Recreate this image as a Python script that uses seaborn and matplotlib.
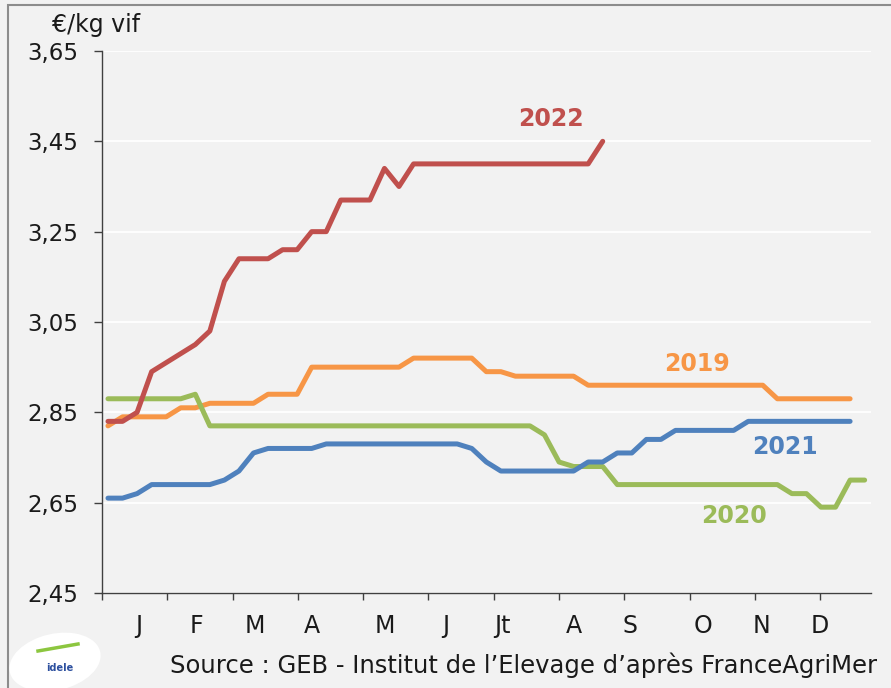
import numpy as np
import pandas as pd
import seaborn as sns
import matplotlib.pyplot as plt
from matplotlib.patches import Rectangle, Ellipse

# Prix hebdomadaires (€/kg vif), semaine 1 = début janvier
prix_2019 = [2.82, 2.84, 2.84, 2.84, 2.84, 2.86, 2.86, 2.87, 2.87, 2.87,
             2.87, 2.89, 2.89, 2.89, 2.95, 2.95, 2.95, 2.95, 2.95, 2.95,
             2.95, 2.97, 2.97, 2.97, 2.97, 2.97, 2.94, 2.94, 2.93, 2.93,
             2.93, 2.93, 2.93, 2.91, 2.91, 2.91, 2.91, 2.91, 2.91, 2.91,
             2.91, 2.91, 2.91, 2.91, 2.91, 2.91, 2.88, 2.88, 2.88, 2.88,
             2.88, 2.88]
prix_2020 = [2.88, 2.88, 2.88, 2.88, 2.88, 2.88, 2.89, 2.82, 2.82, 2.82,
             2.82, 2.82, 2.82, 2.82, 2.82, 2.82, 2.82, 2.82, 2.82, 2.82,
             2.82, 2.82, 2.82, 2.82, 2.82, 2.82, 2.82, 2.82, 2.82, 2.82,
             2.80, 2.74, 2.73, 2.73, 2.73, 2.69, 2.69, 2.69, 2.69, 2.69,
             2.69, 2.69, 2.69, 2.69, 2.69, 2.69, 2.69, 2.67, 2.67, 2.64,
             2.64, 2.70, 2.70]
prix_2021 = [2.66, 2.66, 2.67, 2.69, 2.69, 2.69, 2.69, 2.69, 2.70, 2.72,
             2.76, 2.77, 2.77, 2.77, 2.77, 2.78, 2.78, 2.78, 2.78, 2.78,
             2.78, 2.78, 2.78, 2.78, 2.78, 2.77, 2.74, 2.72, 2.72, 2.72,
             2.72, 2.72, 2.72, 2.74, 2.74, 2.76, 2.76, 2.79, 2.79, 2.81,
             2.81, 2.81, 2.81, 2.81, 2.83, 2.83, 2.83, 2.83, 2.83, 2.83,
             2.83, 2.83]
prix_2022 = [2.83, 2.83, 2.85, 2.94, 2.96, 2.98, 3.00, 3.03, 3.14, 3.19,
             3.19, 3.19, 3.21, 3.21, 3.25, 3.25, 3.32, 3.32, 3.32, 3.39,
             3.35, 3.40, 3.40, 3.40, 3.40, 3.40, 3.40, 3.40, 3.40, 3.40,
             3.40, 3.40, 3.40, 3.40, 3.45]

annees = ['2019', '2020', '2021', '2022']
couleurs = ['#F79646', '#9BBB59', '#4F81BD', '#C0504D']
mois = ['J', 'F', 'M', 'A', 'M', 'J', 'Jt', 'A', 'S', 'O', 'N', 'D']
mois_pos = [3.1, 7.1, 11.1, 15.0, 20.0, 24.2, 28.1, 33.0, 36.9, 41.9, 45.9, 49.9]
y_ticks = [2.45, 2.65, 2.85, 3.05, 3.25, 3.45, 3.65]

frames = []
for an, prix in zip(annees, [prix_2019, prix_2020, prix_2021, prix_2022]):
    frames.append(pd.DataFrame({'semaine': np.arange(1, len(prix) + 1),
                                'prix': prix, 'annee': an}))
df = pd.concat(frames, ignore_index=True)

bg = '#f2f2f2'
txt = '#1a1a1a'
plt.rcParams['font.family'] = ['DejaVu Sans']

fig = plt.figure(figsize=(8.91, 6.88), dpi=100, facecolor=bg)
ax = fig.add_axes([0.1145, 0.1381, 0.8631, 0.7878])
ax.set_facecolor(bg)

sns.lineplot(data=df, x='semaine', y='prix', hue='annee', hue_order=annees,
             palette=dict(zip(annees, couleurs)), estimator=None, legend=False,
             lw=3.6, solid_capstyle='round', solid_joinstyle='round', ax=ax)

ax.set_xlim(0.59, 53.44)
ax.set_ylim(2.45, 3.65)
ax.set_yticks(y_ticks)
ax.set_yticklabels([('%.2f' % v).replace('.', ',') for v in y_ticks],
                   fontsize=16.5, color=txt)
ax.tick_params(axis='y', length=6, width=1, color='#404040', pad=11)

# graduations entre les mois, libellés des mois en ticks mineurs
ax.set_xticks(np.linspace(0.59, 49.94, 12))
ax.set_xticklabels([])
ax.tick_params(axis='x', which='major', length=5, width=1, color='#404040')
ax.set_xticks(mois_pos, minor=True)
ax.set_xticklabels(mois, minor=True, fontsize=17, color=txt)
ax.tick_params(axis='x', which='minor', length=0, pad=15)

ax.yaxis.grid(True, color='white', lw=1.3)
ax.set_axisbelow(True)
for s in ['top', 'right']:
    ax.spines[s].set_visible(False)
for s in ['left', 'bottom']:
    ax.spines[s].set_color('#404040')
    ax.spines[s].set_linewidth(1)
ax.set_xlabel('')
ax.set_ylabel('')

# étiquettes des années
etiquettes = {'2022': (31.45, 3.506), '2019': (41.5, 2.963),
              '2021': (47.5, 2.779), '2020': (44.0, 2.626)}
for an, c in zip(annees, couleurs):
    x, y = etiquettes[an]
    ax.text(x, y, an, color=c, fontsize=17, fontweight='bold',
            ha='center', va='center_baseline')

fig.text(52 / 891, 1 - 25 / 688, '€/kg vif', fontsize=17, color=txt,
         ha='left', va='center')
fig.text(877 / 891, 1 - 665 / 688,
         "Source : GEB - Institut de l\u2019Elevage d\u2019après FranceAgriMer",
         fontsize=17.5, color=txt, ha='right', va='center')

# cadre
fig.patches.append(Rectangle((8 / 891, -0.05), 1.2, 1 - 5 / 688 + 0.05,
                             transform=fig.transFigure, fill=False,
                             edgecolor='#8c8c8c', lw=1.5))

# logo idele (approximation)
fig.patches.append(Ellipse((55 / 891, 1 - 662 / 688), 95 / 891, 55 / 688,
                           angle=25, transform=fig.transFigure,
                           facecolor='white', edgecolor='none'))
fig.text(60 / 891, 1 - 668 / 688, 'idele', fontsize=7, fontweight='bold',
         color='#2c4f9e', ha='center', va='center')
fig.lines.append(plt.Line2D([38 / 891, 78 / 891], [1 - 651 / 688, 1 - 644 / 688],
                            transform=fig.transFigure, color='#8cc63f', lw=2.5))

fig.savefig('out.png', dpi=100, facecolor=bg)
